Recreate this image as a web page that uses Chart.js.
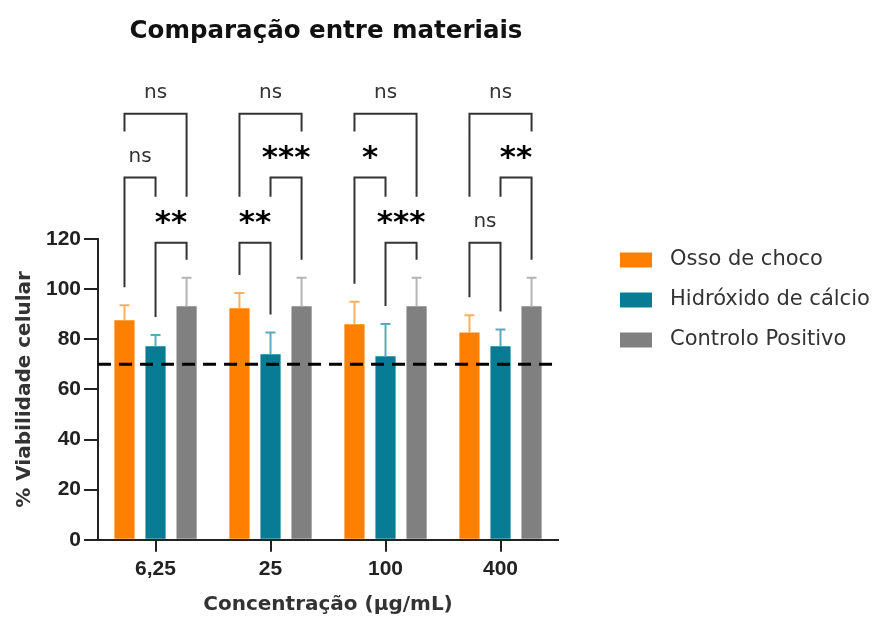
<!DOCTYPE html>
<html>
<head>
<meta charset="utf-8">
<script src="https://cdn.jsdelivr.net/npm/chart.js@4"></script>
<style>
  body { margin: 0; background: #fff; }
  canvas { display: block; }
</style>
</head>
<body>
<canvas id="chart" width="880" height="617"></canvas>
<script>
const concentrations = ['6,25', '25', '100', '400'];
const seriesNames = ['Osso de choco', 'Hidróxido de cálcio', 'Controlo Positivo'];
const seriesColors = ['rgb(255, 128, 0)', 'rgb(8, 124, 148)', 'rgb(128, 128, 128)'];
const errorColors = ['rgb(255, 175, 95)', 'rgb(90, 170, 188)', 'rgb(180, 180, 180)'];

const ossoMeans = [87.6, 92.4, 86.0, 82.7];
const ossoErr = [6.0, 6.1, 9.0, 6.9];
const hidroMeans = [77.2, 74.0, 73.2, 77.2];
const hidroErr = [4.5, 8.7, 12.9, 6.7];
const controloMeans = [93.2, 93.2, 93.2, 93.2];
const controloErr = [11.3, 11.3, 11.3, 11.3];

const yTicks = { min: 0, max: 120, step: 20 };
const threshold = 70; // linha tracejada

// niveis dos colchetes (em unidades do eixo y)
const bracketLevels = [118.5, 144.5, 170];
// [grupo, barra inicial, barra final, nivel, texto]
const comparisons = [
  [0, 0, 2, 2, 'ns'], [0, 0, 1, 1, 'ns'], [0, 1, 2, 0, '**'],
  [1, 0, 2, 2, 'ns'], [1, 1, 2, 1, '***'], [1, 0, 1, 0, '**'],
  [2, 0, 2, 2, 'ns'], [2, 0, 1, 1, '*'], [2, 1, 2, 0, '***'],
  [3, 0, 2, 2, 'ns'], [3, 1, 2, 1, '**'], [3, 0, 1, 0, 'ns'],
];

const means = [ossoMeans, hidroMeans, controloMeans];
const errs = [ossoErr, hidroErr, controloErr];

const extras = {
  id: 'extras',
  afterDatasetsDraw(chart) {
    const { ctx, chartArea, scales: { y } } = chart;
    ctx.save();
    // barras de erro (so para cima)
    chart.data.datasets.forEach((ds, i) => {
      const meta = chart.getDatasetMeta(i);
      meta.data.forEach((bar, g) => {
        const top = y.getPixelForValue(means[i][g] + errs[i][g]);
        ctx.strokeStyle = errorColors[i];
        ctx.lineWidth = 2;
        ctx.beginPath();
        ctx.moveTo(bar.x, bar.y);
        ctx.lineTo(bar.x, top);
        ctx.moveTo(bar.x - 5, top);
        ctx.lineTo(bar.x + 5, top);
        ctx.stroke();
      });
    });
    // linha de 70%
    const ly = y.getPixelForValue(threshold);
    ctx.strokeStyle = '#000';
    ctx.lineWidth = 3;
    ctx.setLineDash([13, 8]);
    ctx.beginPath();
    ctx.moveTo(chartArea.left, ly);
    ctx.lineTo(chartArea.right, ly);
    ctx.stroke();
    ctx.setLineDash([]);

    // colchetes de significancia
    ctx.strokeStyle = '#333';
    ctx.lineWidth = 2;
    comparisons.forEach(([g, a, b, lvl, txt]) => {
      const lineY = y.getPixelForValue(bracketLevels[lvl]);
      const legBottom = (j) => {
        const below = comparisons.filter(c => c[0] === g && c[3] < lvl && c[1] <= j && c[2] >= j);
        if (below.length) {
          const hi = Math.max(...below.map(c => c[3]));
          return y.getPixelForValue(bracketLevels[hi]) - 46;
        }
        return y.getPixelForValue(means[j][g] + errs[j][g]) - 18;
      };
      const xa = chart.getDatasetMeta(a).data[g].x;
      const xb = chart.getDatasetMeta(b).data[g].x;
      ctx.beginPath();
      ctx.moveTo(xa, legBottom(a));
      ctx.lineTo(xa, lineY);
      ctx.lineTo(xb, lineY);
      ctx.lineTo(xb, legBottom(b));
      ctx.stroke();
      ctx.textAlign = 'center';
      ctx.textBaseline = 'alphabetic';
      if (txt === 'ns') {
        ctx.fillStyle = '#333';
        ctx.font = '20px "DejaVu Sans"';
        ctx.fillText(txt, (xa + xb) / 2, lineY - 16);
      } else {
        ctx.fillStyle = '#000';
        ctx.font = 'bold 31px "DejaVu Sans"';
        ctx.fillText(txt, (xa + xb) / 2, lineY - 11);
      }
    });

    // titulo
    ctx.fillStyle = '#111';
    ctx.font = 'bold 24.5px "DejaVu Sans"';
    ctx.textAlign = 'center';
    ctx.textBaseline = 'middle';
    ctx.fillText('Comparação entre materiais', (chartArea.left + chartArea.right) / 2 - 2, 32);

    // legenda
    ctx.font = '21px "DejaVu Sans"';
    ctx.textAlign = 'left';
    chart.data.datasets.forEach((ds, i) => {
      const cy = 260 + i * 40;
      ctx.fillStyle = ds.backgroundColor;
      ctx.fillRect(620, cy - 7.5, 32, 15);
      ctx.fillStyle = '#333';
      ctx.fillText(ds.label, 670, cy);
    });
    ctx.restore();
  }
};

new Chart(document.getElementById('chart'), {
  type: 'bar',
  data: {
    labels: concentrations,
    datasets: seriesNames.map((name, i) => ({
      label: name,
      data: means[i],
      backgroundColor: seriesColors[i],
      categoryPercentage: 0.81,
      barPercentage: 0.65,
    })),
  },
  options: {
    responsive: false,
    animation: false,
    layout: { padding: { top: 239, right: 322, bottom: 0, left: 0 } },
    plugins: {
      legend: { display: false },
      tooltip: { enabled: false },
    },
    scales: {
      x: {
        grid: { display: true, drawOnChartArea: false, offset: false, tickLength: 12, color: '#222', lineWidth: 2 },
        border: { color: '#222', width: 2 },
        ticks: { color: '#222', padding: 5, font: { family: '"Liberation Sans", Arial', size: 21, weight: 'bold' } },
        title: {
          display: true,
          text: 'Concentração (µg/mL)',
          color: '#333',
          font: { family: '"DejaVu Sans"', size: 20, weight: 'bold' },
          padding: { top: 6, bottom: 0 },
        },
      },
      y: {
        min: yTicks.min,
        max: yTicks.max,
        grid: { display: true, drawOnChartArea: false, tickLength: 14, color: '#222', lineWidth: 2 },
        border: { color: '#222', width: 2 },
        ticks: {
          stepSize: yTicks.step,
          color: '#222',
          padding: 3,
          font: { family: '"Liberation Sans", Arial', size: 21, weight: 'bold' },
        },
        title: {
          display: true,
          text: '% Viabilidade celular',
          color: '#333',
          font: { family: '"DejaVu Sans"', size: 20, weight: 'bold' },
          padding: { top: 13, bottom: 6 },
        },
      },
    },
  },
  plugins: [extras],
});
</script>
</body>
</html>
